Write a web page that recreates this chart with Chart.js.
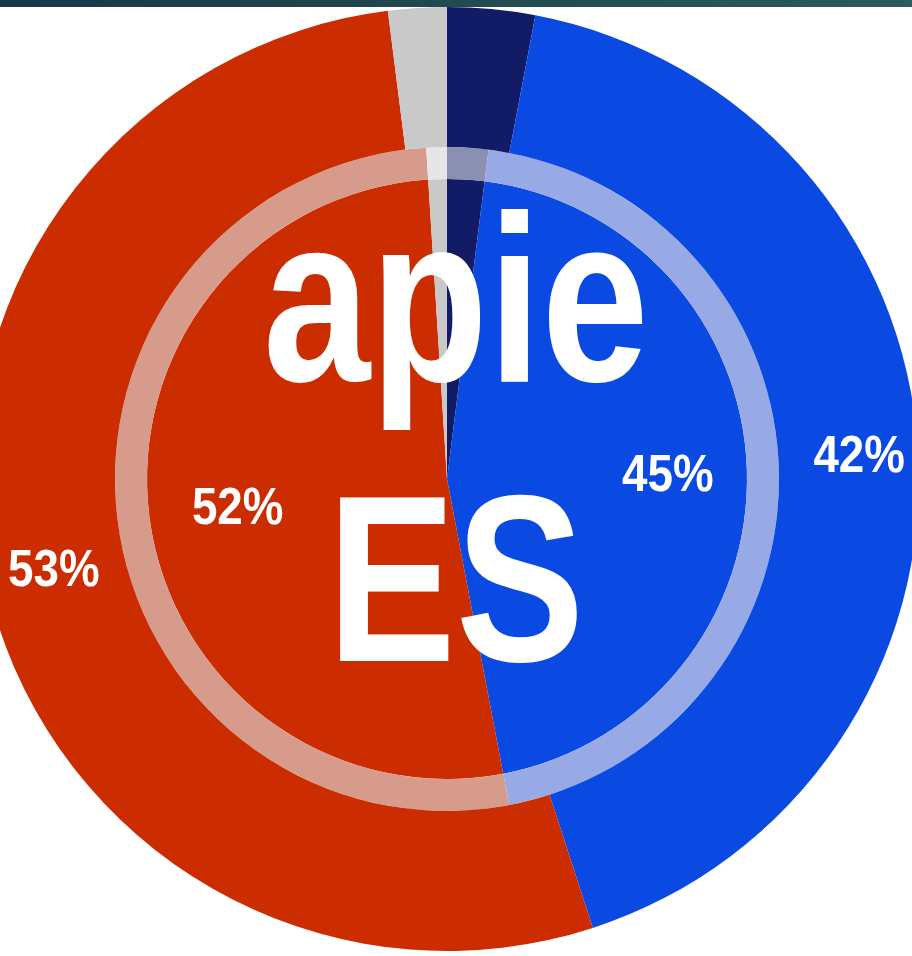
<!DOCTYPE html>
<html>
<head>
<meta charset="utf-8">
<script src="https://cdn.jsdelivr.net/npm/chart.js@4/dist/chart.umd.min.js"></script>
<style>
html,body{margin:0;padding:0;width:912px;height:956px;overflow:hidden;background:#fff;}
#wrap{position:relative;width:912px;height:956px;overflow:hidden;background:#fff;}
#c{position:absolute;left:-25px;top:7px;}
#bar{position:absolute;left:0;top:0;width:912px;height:7px;background:linear-gradient(90deg,#173847,#2b5b5b);z-index:3;}
.big{position:absolute;left:0;width:912px;text-align:center;color:#fff;font-family:"Liberation Sans",Arial,sans-serif;font-weight:bold;font-size:238px;line-height:238px;transform:scaleX(0.81);transform-origin:455px 0;z-index:2;white-space:nowrap;}
</style>
</head>
<body>
<div id="wrap">
  <canvas id="c" width="944" height="944"></canvas>
  <div id="bar"></div>
  <div class="big" style="top:180px;">apie</div>
  <div class="big" style="top:460px;">ES</div>
</div>
<script>
// Categories in clockwise order starting from 12 o'clock
const categories = ['Navy', 'Blue', 'Red', 'Gray'];
// Outer ring values (%)
const outerValues = [3, 42, 53, 2];
// Inner pie values (%)
const innerValues = [2, 45, 52, 1];
// Which slices carry a percentage label
const outerLabelShown = [false, true, true, false];
const innerLabelShown = [false, true, true, false];

const baseColors = ['#121b66', '#0a4ae2', '#cc2d00', '#c9c9c9'];
const ringColors = ['#8a90b2', '#97aae6', '#d79b8c', '#e6e6e6'];

const pctLabels = {
  id: 'pctLabels',
  afterDatasetsDraw(chart) {
    const ctx = chart.ctx;
    const cfg = [
      { di: 0, shown: outerLabelShown, vals: outerValues },
      { di: 2, shown: innerLabelShown, vals: innerValues }
    ];
    ctx.save();
    ctx.fillStyle = '#ffffff';
    ctx.font = 'bold 52px "Liberation Sans", Arial, sans-serif';
    ctx.textAlign = 'center';
    ctx.textBaseline = 'middle';
    cfg.forEach(({ di, shown, vals }) => {
      const meta = chart.getDatasetMeta(di);
      meta.data.forEach((arc, i) => {
        if (!shown[i]) return;
        const p = arc.getProps(['x', 'y', 'startAngle', 'endAngle', 'innerRadius', 'outerRadius'], true);
        const mid = (p.startAngle + p.endAngle) / 2;
        const r = di === 0 ? (p.innerRadius + p.outerRadius) / 2 + 6 : p.outerRadius * 0.72;
        const x = p.x + Math.cos(mid) * r + 5;
        const y = p.y + Math.sin(mid) * r + 4;
        ctx.save();
        ctx.translate(x, y);
        ctx.scale(0.88, 1);
        ctx.fillText(vals[i] + '%', 0, 0);
        ctx.restore();
      });
    });
    ctx.restore();
  }
};

new Chart(document.getElementById('c'), {
  type: 'pie',
  data: {
    labels: categories,
    datasets: [
      { data: outerValues, backgroundColor: baseColors, borderWidth: 0, weight: 140 },
      { data: innerValues, backgroundColor: ringColors, borderWidth: 0, weight: 32 },
      { data: innerValues, backgroundColor: baseColors, borderWidth: 0, weight: 300 }
    ]
  },
  options: {
    responsive: false,
    animation: false,
    rotation: 0,
    layout: { padding: 0 },
    plugins: { legend: { display: false }, tooltip: { enabled: false } }
  },
  plugins: [pctLabels]
});
</script>
</body>
</html>
